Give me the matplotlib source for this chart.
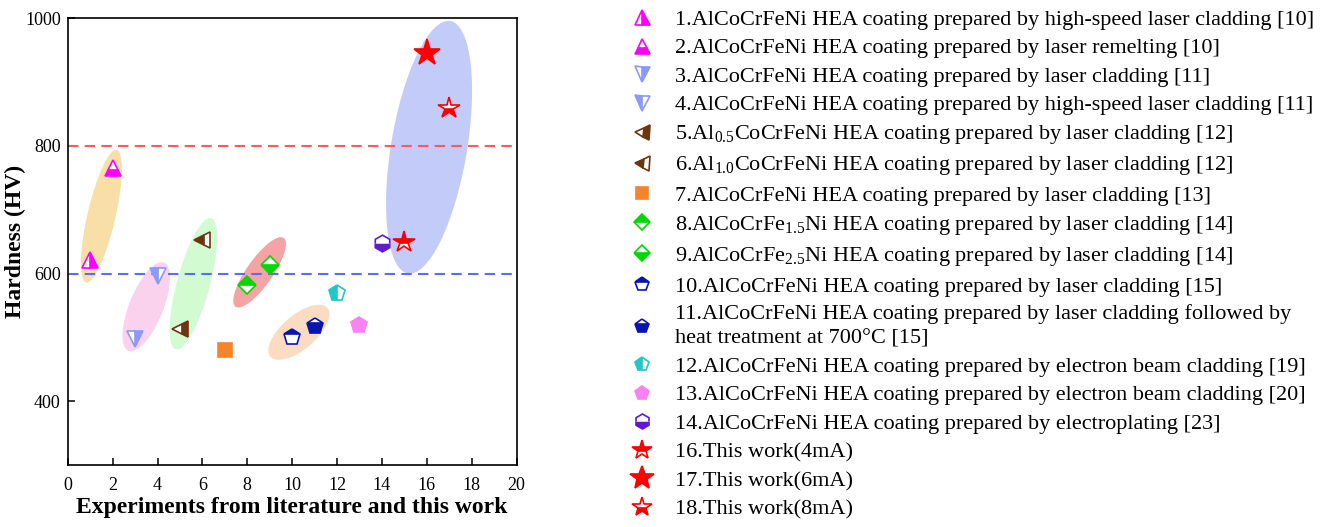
import matplotlib
matplotlib.use("Agg")
from matplotlib import pyplot as plt
from matplotlib.patches import Ellipse
from matplotlib.transforms import ScaledTranslation

plt.rcParams["font.family"] = ["Liberation Serif", "DejaVu Serif"]
plt.rcParams["mathtext.fontset"] = "custom"
plt.rcParams["mathtext.rm"] = "Liberation Serif"
plt.rcParams["mathtext.it"] = "Liberation Serif"

# sample index, hardness (HV)
x_vals = [1, 2, 3, 4, 5, 6, 7, 8, 9, 10, 11, 12, 13, 14, 15, 16, 17]
hardness = [622, 765, 497, 597, 513, 652, 480, 582, 613, 500, 518, 570, 520, 648, 650, 945, 860]

labels = [
    "1.AlCoCrFeNi HEA coating prepared by high-speed laser cladding [10]",
    "2.AlCoCrFeNi HEA coating prepared by laser remelting [10]",
    "3.AlCoCrFeNi HEA coating prepared by laser cladding [11]",
    "4.AlCoCrFeNi HEA coating prepared by high-speed laser cladding [11]",
    "5.Al$_{0.5}$CoCrFeNi HEA coating prepared by laser cladding [12]",
    "6.Al$_{1.0}$CoCrFeNi HEA coating prepared by laser cladding [12]",
    "7.AlCoCrFeNi HEA coating prepared by laser cladding [13]",
    "8.AlCoCrFe$_{1.5}$Ni HEA coating prepared by laser cladding [14]",
    "9.AlCoCrFe$_{2.5}$Ni HEA coating prepared by laser cladding [14]",
    "10.AlCoCrFeNi HEA coating prepared by laser cladding [15]",
    "11.AlCoCrFeNi HEA coating prepared by laser cladding followed by\nheat treatment at 700°C [15]",
    "12.AlCoCrFeNi HEA coating prepared by electron beam cladding [19]",
    "13.AlCoCrFeNi HEA coating prepared by electron beam cladding [20]",
    "14.AlCoCrFeNi HEA coating prepared by electroplating [23]",
    "16.This work(4mA)",
    "17.This work(6mA)",
    "18.This work(8mA)",
]

markers = ["^", "^", "v", "v", "<", "<", "s", "D", "D", "p", "p", "p", "p", "h", "*", "*", "*"]
fills = ["right", "bottom", "right", "left", "right", "left", "full", "top", "bottom",
         "top", "bottom", "left", "full", "bottom", "top", "full", "bottom"]
colors = ["#ff00ff", "#ff00ff", "#8a9af8", "#8a9af8", "#6b3510", "#6b3510", "#f5842a",
          "#00d800", "#00d800", "#0a14b0", "#0a14b0", "#20c8c8", "#fa82f2", "#6418d2",
          "#ff0000", "#ff0000", "#ff0000"]
sizes = [12, 12, 12, 12, 12, 12, 9.5, 9.5, 9.5, 12, 12, 12, 12, 12, 16, 20, 16]

# highlight ellipses: centre (data), length/width (px), angle (deg), colour
ell_center = [(1.5, 690), (3.5, 548), (5.6, 584), (8.55, 602), (10.3, 508), (16.1, 798)]
ell_len = [136, 95, 136, 84, 75, 256]
ell_wid = [28, 34, 33, 26, 34, 76]
ell_ang = [77, 68, 75, 55, 40.5, 80.5]
ell_col = ["#f8dfa8", "#fbd2ee", "#d2fbd2", "#f6a3a3", "#fbdcc2", "#c3cbf8"]

fig = plt.figure(figsize=(13.28, 5.27), dpi=100)
ax = fig.add_axes([0.051, 0.1176, 0.338, 0.8476])

for c, w, h, a, col in zip(ell_center, ell_len, ell_wid, ell_ang, ell_col):
    tr = fig.dpi_scale_trans + ScaledTranslation(c[0], c[1], ax.transData)
    ax.add_patch(Ellipse((0, 0), w / 100, h / 100, angle=a, transform=tr,
                         facecolor=col, edgecolor="none", zorder=1))

ax.axhline(800, color="#ff5a5a", lw=1.5, ls=(0, (5, 3)), zorder=2)
ax.axhline(600, color="#5a6ef5", lw=1.5, ls=(0, (5, 3)), zorder=2)

handles = []
for xi, yi, m, f, c, s, lab in zip(x_vals, hardness, markers, fills, colors, sizes, labels):
    h, = ax.plot([xi], [yi], ls="none", marker=m, fillstyle=f, markersize=s,
                 color=c, markerfacecolor=c, markerfacecoloralt="white",
                 markeredgecolor=c, markeredgewidth=1.2, label=lab, zorder=3)
    handles.append(h)

ax.set_xlim(0, 20)
ax.set_ylim(300, 1000)
ax.set_xticks(range(0, 21, 2))
ax.set_yticks([400, 600, 800, 1000])
ax.tick_params(direction="in", labelsize=13, length=5, width=1.1)
ax.tick_params(axis="x", pad=8.5)
ax.tick_params(axis="y", pad=5)
for sp in ax.spines.values():
    sp.set_linewidth(1.2)
ax.set_xlabel("Experiments from literature and this work", fontsize=17,
              fontweight="bold", labelpad=2)
ax.set_ylabel("Hardness (HV)", fontsize=17, fontweight="bold")
ax.yaxis.set_label_coords(-0.094, 0.5)

leg = fig.legend(handles=handles, loc="upper left", bbox_to_anchor=(0.463, 1.012),
                 frameon=False, fontsize=16, labelspacing=0.36, handlelength=1.0,
                 handletextpad=1.0, borderpad=0.2, markerscale=0.9)
leg.get_texts()[10].set_linespacing(1.35)

fig.savefig("out.png", dpi=100)
